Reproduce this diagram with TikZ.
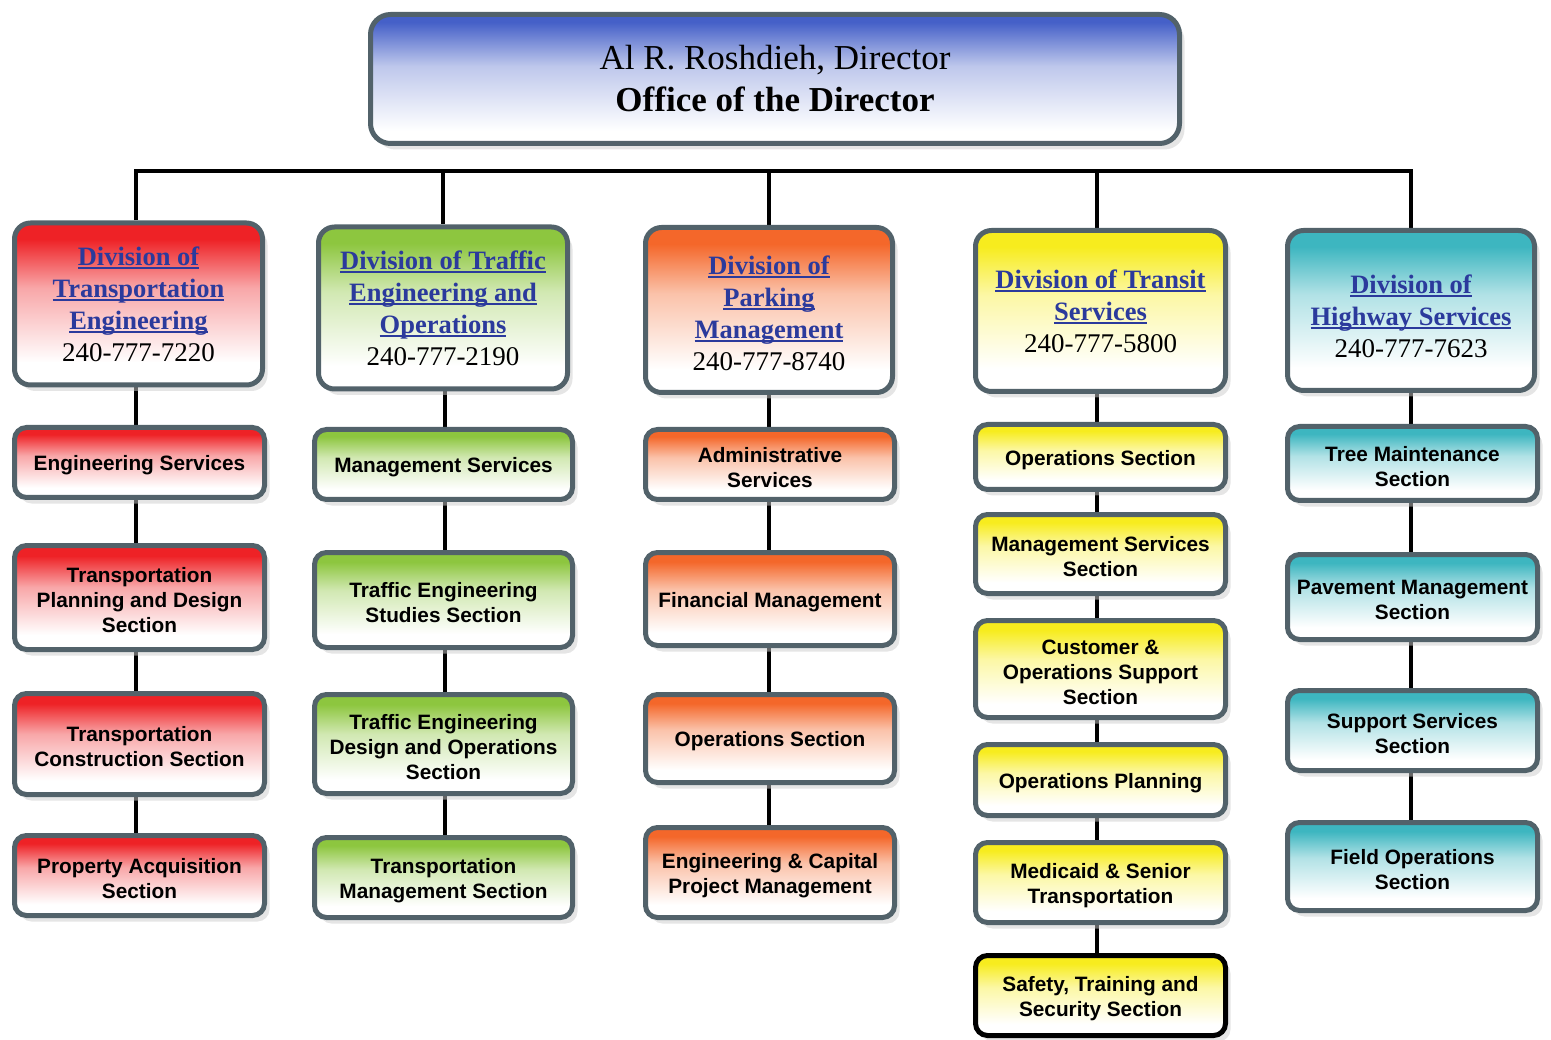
\documentclass[tikz,border=0pt]{standalone}
\usepackage{fontspec}
\setmainfont{Liberation Serif}
\newfontfamily\subf{Liberation Sans}
\usetikzlibrary{shadows}
\definecolor{bordc}{HTML}{52626A}
\definecolor{ttlblue}{HTML}{2B3A9C}
\definecolor{cRed}{HTML}{EE2226}
\definecolor{cGreen}{HTML}{8DC63F}
\definecolor{cOrange}{HTML}{F4672A}
\definecolor{cYellow}{HTML}{F7EC1E}
\definecolor{cCyan}{HTML}{3DB6C0}
\definecolor{cBlue}{HTML}{4560C8}
\newcommand\mkshade[2]{\pgfdeclareverticalshading{sh#1}{100bp}{color(0bp)=(white); color(32bp)=(white); color(55bp)=(#2!40!white); color(70bp)=(#2); color(100bp)=(#2)}}
\mkshade{red}{cRed}
\mkshade{green}{cGreen}
\mkshade{orange}{cOrange}
\mkshade{yellow}{cYellow}
\mkshade{cyan}{cCyan}
\pgfdeclareverticalshading{shblue}{100bp}{color(0bp)=(white); color(30bp)=(white); color(55bp)=(cBlue!35!white); color(72bp)=(cBlue); color(100bp)=(cBlue)}
\newcommand\ulx[1]{\setbox0=\hbox{#1}\rlap{\rule[-4pt]{\wd0}{2.2pt}}\box0}
\newcommand\dt[1]{{\color{ttlblue}\bfseries\ulx{#1}}}
\newcommand\dphone[1]{{\fontsize{27}{32}\selectfont #1}}
\newcommand\subsh{\rule{0pt}{21pt}}
\pgfdeclarelayer{background}
\pgfsetlayers{background,main}
\tikzset{
  base/.style={rounded corners=16pt, line width=5pt, draw=bordc, shade,
    drop shadow={shadow xshift=5pt, shadow yshift=-6pt, fill=black!20},
    align=center, inner sep=0pt},
  divbox/.style={base, shading=sh#1, minimum width=248pt, minimum height=162pt,
    font=\fontsize{26.5}{32}\selectfont},
  subbox/.style={base, rounded corners=12pt, shading=sh#1, minimum width=250pt,
    font=\subf\bfseries\fontsize{20.8}{25}\selectfont},
  conn/.style={line width=4.5pt, draw=black},
}
\begin{document}
\begin{tikzpicture}[x=1pt,y=-1pt]
\useasboundingbox (0,0) rectangle (1551,1040);
% director
\node[base, shading=shblue, rounded corners=20pt, minimum width=809pt, minimum height=129pt,
  font=\fontsize{35}{42}\selectfont] (dir) at (775,79)
  {Al R. Roshdieh, Director\\\textbf{Office of the Director}};
% divisions
\node[divbox=red] (d1) at (138.5,304) {\dt{Division of}\\\dt{Transportation}\\\dt{Engineering}\\\dphone{240-777-7220}};
\node[divbox=green, minimum width=249pt] (d2) at (443,308) {\dt{Division of Traffic}\\\dt{Engineering and}\\\dt{Operations}\\\dphone{240-777-2190}};
\node[divbox=orange, minimum width=247pt, minimum height=165pt] (d3) at (769,310) {\rule{0pt}{25pt}\dt{Division of}\\\dt{Parking}\\\dt{Management}\\\dphone{240-777-8740}};
\node[divbox=yellow, minimum width=250pt, minimum height=161pt] (d4) at (1100.5,311) {\dt{Division of Transit}\\\dt{Services}\\\dphone{240-777-5800}};
\node[divbox=cyan, minimum width=247pt, minimum height=160pt] (d5) at (1411,310.5) {\rule{0pt}{30pt}\dt{Division of}\\\dt{Highway Services}\\\dphone{240-777-7623}};
% column 1
\node[subbox=red, minimum height=70pt] (s11) at (139.5,462.5) {\subsh Engineering Services};
\node[subbox=red, minimum height=104pt] (s12) at (139.5,597.5) {\subsh Transportation\\Planning and Design\\Section};
\node[subbox=red, minimum height=101pt] (s13) at (139.5,744) {\subsh Transportation\\Construction Section};
\node[subbox=red, minimum height=80pt] (s14) at (139.5,875.5) {\subsh Property Acquisition\\Section};
% column 2
\node[subbox=green, minimum width=258pt, minimum height=70pt] (s21) at (443.5,464.5) {\subsh Management Services};
\node[subbox=green, minimum width=258pt, minimum height=95pt] (s22) at (443.5,600) {\subsh Traffic Engineering\\Studies Section};
\node[subbox=green, minimum width=258pt, minimum height=99pt] (s23) at (443.5,744) {\subsh Traffic Engineering\\Design and Operations\\Section};
\node[subbox=green, minimum width=258pt, minimum height=80pt] (s24) at (443.5,877.5) {\subsh Transportation\\Management Section};
% column 3
\node[subbox=orange, minimum width=249pt, minimum height=70pt] (s31) at (770,464.5) {\subsh Administrative\\Services};
\node[subbox=orange, minimum width=249pt, minimum height=93pt] (s32) at (770,599) {\subsh Financial Management};
\node[subbox=orange, minimum width=249pt, minimum height=88pt] (s33) at (770,738.5) {\subsh Operations Section};
\node[subbox=orange, minimum width=249pt, minimum height=90pt] (s34) at (770,872.5) {\subsh Engineering \& Capital\\Project Management};
% column 4
\node[subbox=yellow, minimum height=65pt] (s41) at (1100.5,457) {\subsh Operations Section};
\node[subbox=yellow, minimum height=79pt] (s42) at (1100.5,554) {\subsh Management Services\\Section};
\node[subbox=yellow, minimum height=97pt] (s43) at (1100.5,669) {\subsh Customer \&\\Operations Support\\Section};
\node[subbox=yellow, minimum height=71pt] (s44) at (1100.5,780) {\subsh Operations Planning};
\node[subbox=yellow, minimum height=80pt] (s45) at (1100.5,882.5) {\subsh Medicaid \& Senior\\Transportation};
\node[subbox=yellow, draw=black, minimum height=80pt] (s46) at (1100.5,995.5) {\subsh Safety, Training and\\Security Section};
% column 5
\node[subbox=cyan, minimum height=74pt] (s51) at (1412.5,463.5) {\subsh Tree Maintenance\\Section};
\node[subbox=cyan, minimum height=85pt] (s52) at (1412.5,597) {\subsh Pavement Management\\Section};
\node[subbox=cyan, minimum height=80pt] (s53) at (1412.5,730.5) {\subsh Support Services\\Section};
\node[subbox=cyan, minimum height=88pt] (s54) at (1412.5,866.5) {\subsh Field Operations\\Section};
% connectors
\coordinate (b1) at (136,171);
\coordinate (b2) at (443,171);
\coordinate (b3) at (769,171);
\coordinate (b4) at (1097,171);
\coordinate (b5) at (1411,171);
\coordinate (c2) at (445,0);
\begin{pgfonlayer}{background}
\draw[conn] (b1 |- d1.north) -- (b1) -- (b5) -- (b5 |- d5.north);
\draw[conn] (b2) -- (b2 |- d2.north);
\draw[conn] (b3) -- (b3 |- d3.north);
\draw[conn] (b4) -- (b4 |- d4.north);
\draw[conn] (d1.south -| b1) -- (s11.north -| b1);
\draw[conn] (s11.south -| b1) -- (s12.north -| b1);
\draw[conn] (s12.south -| b1) -- (s13.north -| b1);
\draw[conn] (s13.south -| b1) -- (s14.north -| b1);
\draw[conn] (d2.south -| c2) -- (s21.north -| c2);
\draw[conn] (s21.south -| c2) -- (s22.north -| c2);
\draw[conn] (s22.south -| c2) -- (s23.north -| c2);
\draw[conn] (s23.south -| c2) -- (s24.north -| c2);
\draw[conn] (d3.south -| b3) -- (s31.north -| b3);
\draw[conn] (s31.south -| b3) -- (s32.north -| b3);
\draw[conn] (s32.south -| b3) -- (s33.north -| b3);
\draw[conn] (s33.south -| b3) -- (s34.north -| b3);
\draw[conn] (d4.south -| b4) -- (s41.north -| b4);
\draw[conn] (s41.south -| b4) -- (s42.north -| b4);
\draw[conn] (s42.south -| b4) -- (s43.north -| b4);
\draw[conn] (s43.south -| b4) -- (s44.north -| b4);
\draw[conn] (s44.south -| b4) -- (s45.north -| b4);
\draw[conn] (s45.south -| b4) -- (s46.north -| b4);
\draw[conn] (d5.south -| b5) -- (s51.north -| b5);
\draw[conn] (s51.south -| b5) -- (s52.north -| b5);
\draw[conn] (s52.south -| b5) -- (s53.north -| b5);
\draw[conn] (s53.south -| b5) -- (s54.north -| b5);
\end{pgfonlayer}
\end{tikzpicture}
\end{document}
